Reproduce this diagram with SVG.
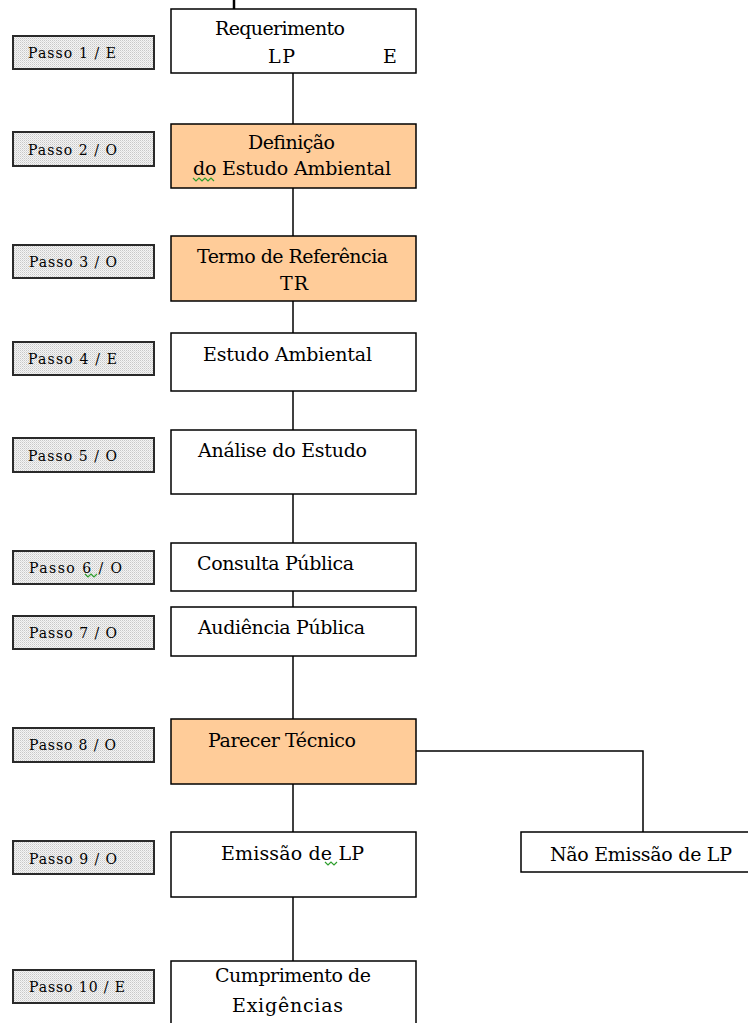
<svg xmlns="http://www.w3.org/2000/svg" width="748" height="1023" viewBox="0 0 748 1023">
<defs>
<pattern id="stip" width="2" height="2" patternUnits="userSpaceOnUse">
<rect width="2" height="2" fill="#f4f4f4"/>
<rect width="1" height="1" fill="#c8c8c8"/>
<rect x="1" y="1" width="1" height="1" fill="#dddddd"/>
</pattern>
<style>
.box{fill:#ffffff;stroke:#000;stroke-width:1.5}
.org{fill:#ffcc99;stroke:#000;stroke-width:1.5}
.step{fill:url(#stip);stroke:#2a2a2a;stroke-width:2}
.t{font-family:"DejaVu Serif","Liberation Serif",serif;font-size:19px;fill:#000}
.s{font-family:"DejaVu Serif","Liberation Serif",serif;font-size:14px;fill:#000}
.ln{stroke:#000;stroke-width:1.5;fill:none}
.sq{stroke:#2e9e2e;stroke-width:1.2;fill:none}
</style>
</defs>
<rect width="748" height="1023" fill="#ffffff"/>

<g id="connectors">
<line class="ln" x1="293" y1="73" x2="293" y2="124"/>
<line class="ln" x1="293" y1="188" x2="293" y2="236"/>
<line class="ln" x1="293" y1="301" x2="293" y2="333"/>
<line class="ln" x1="293" y1="391" x2="293" y2="430"/>
<line class="ln" x1="293" y1="494" x2="293" y2="543"/>
<line class="ln" x1="293" y1="591" x2="293" y2="607"/>
<line class="ln" x1="293" y1="656" x2="293" y2="719"/>
<line class="ln" x1="293" y1="784" x2="293" y2="832"/>
<line class="ln" x1="293" y1="897" x2="293" y2="961"/>
<polyline class="ln" points="416,751 643,751 643,832"/>
<line x1="234" y1="0" x2="234" y2="13" stroke="#000" stroke-width="2.5"/>
</g>

<g id="step1"><rect class="step" x="13" y="36" width="141" height="33"/><text class="s" x="28" y="58" textLength="88">Passo 1 / E</text></g>
<g id="step2"><rect class="step" x="13" y="132" width="141" height="34"/><text class="s" x="28" y="155" textLength="89">Passo 2 / O</text></g>
<g id="step3"><rect class="step" x="13" y="245" width="141" height="33"/><text class="s" x="29" y="267" textLength="88">Passo 3 / O</text></g>
<g id="step4"><rect class="step" x="13" y="342" width="141" height="33"/><text class="s" x="28" y="364" textLength="89">Passo 4 / E</text></g>
<g id="step5"><rect class="step" x="13" y="438" width="141" height="34"/><text class="s" x="28" y="461" textLength="89">Passo 5 / O</text></g>
<g id="step6"><rect class="step" x="13" y="551" width="141" height="33"/><text class="s" x="29" y="573" textLength="93">Passo 6 / O</text><path class="sq" d="M85,574 l3,3 l3,-3 l3,3 l3,-3"/></g>
<g id="step7"><rect class="step" x="13" y="616" width="141" height="33"/><text class="s" x="29" y="638" textLength="88">Passo 7 / O</text></g>
<g id="step8"><rect class="step" x="13" y="728" width="141" height="34"/><text class="s" x="29" y="750" textLength="87">Passo 8 / O</text></g>
<g id="step9"><rect class="step" x="13" y="841" width="141" height="33"/><text class="s" x="29" y="864" textLength="88">Passo 9 / O</text></g>
<g id="step10"><rect class="step" x="13" y="970" width="141" height="33"/><text class="s" x="29" y="992" textLength="96">Passo 10 / E</text></g>

<g id="n1"><rect class="box" x="171" y="9" width="245" height="64"/>
<text class="t" x="215" y="35" textLength="130">Requerimento</text>
<text class="t" x="268" y="63" textLength="27">LP</text>
<text class="t" x="383" y="63">E</text></g>

<g id="n2"><rect class="org" x="171" y="124" width="245" height="64"/>
<text class="t" x="248" y="149" textLength="87">Definição</text>
<text class="t" x="193" y="175" textLength="198">do Estudo Ambiental</text>
<path class="sq" d="M193,178 l3,3 l3,-3 l3,3 l3,-3 l3,3 l3,-3 l3,3"/></g>

<g id="n3"><rect class="org" x="171" y="236" width="245" height="65"/>
<text class="t" x="197" y="263" textLength="191">Termo de Referência</text>
<text class="t" x="280" y="290" textLength="28">TR</text></g>

<g id="n4"><rect class="box" x="171" y="333" width="245" height="58"/>
<text class="t" x="203" y="361" textLength="169">Estudo Ambiental</text></g>

<g id="n5"><rect class="box" x="171" y="430" width="245" height="64"/>
<text class="t" x="198" y="457" textLength="169">Análise do Estudo</text></g>

<g id="n6"><rect class="box" x="171" y="543" width="245" height="48"/>
<text class="t" x="197" y="570" textLength="157">Consulta Pública</text></g>

<g id="n7"><rect class="box" x="171" y="607" width="245" height="49"/>
<text class="t" x="198" y="634" textLength="167">Audiência Pública</text></g>

<g id="n8"><rect class="org" x="171" y="719" width="245" height="65"/>
<text class="t" x="208" y="747" textLength="148">Parecer Técnico</text></g>

<g id="n9"><rect class="box" x="171" y="832" width="245" height="65"/>
<text class="t" x="221" y="860" textLength="143">Emissão de LP</text>
<path class="sq" d="M325,862 l3,3 l3,-3 l3,3 l3,-3"/></g>

<g id="n9b"><rect class="box" x="521" y="832" width="250" height="40"/>
<text class="t" x="550" y="861" textLength="182">Não Emissão de LP</text></g>

<g id="n10"><rect class="box" x="171" y="961" width="245" height="80"/>
<text class="t" x="215" y="982" textLength="156">Cumprimento de</text>
<text class="t" x="232" y="1012" textLength="111">Exigências</text></g>
</svg>
